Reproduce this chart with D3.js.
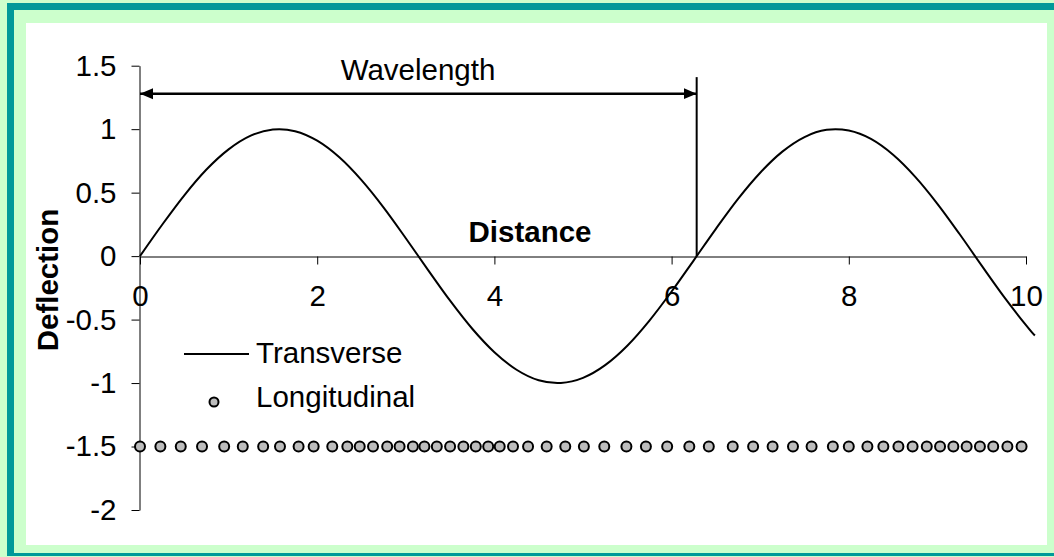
<!DOCTYPE html>
<html>
<head>
<meta charset="utf-8">
<script src="https://cdn.jsdelivr.net/npm/d3@7"></script>
<style>
  html, body { margin: 0; padding: 0; background: #ccffcc; }
  svg { display: block; font-family: 'Liberation Sans', Arial, sans-serif; }
</style>
</head>
<body>
<svg id="chart" width="1054" height="557"></svg>
<script>
// transverse wave
const distance = [0, 0.25, 0.5, 0.75, 1, 1.25, 1.5, 1.75, 2, 2.25, 2.5, 2.75, 3, 3.25, 3.5, 3.75,
  4, 4.25, 4.5, 4.75, 5, 5.25, 5.5, 5.75, 6, 6.25, 6.5, 6.75, 7, 7.25, 7.5, 7.75,
  8, 8.25, 8.5, 8.75, 9, 9.25, 9.5, 9.75, 10, 10.1]
const deflection = [0, 0.247, 0.479, 0.682, 0.841, 0.949, 0.997, 0.984, 0.909, 0.778, 0.598, 0.382,
  0.141, -0.108, -0.351, -0.572, -0.757, -0.895, -0.978, -0.999, -0.959, -0.859, -0.706, -0.508,
  -0.279, -0.033, 0.215, 0.451, 0.657, 0.823, 0.938, 0.995, 0.989, 0.923, 0.798, 0.624,
  0.412, 0.174, -0.075, -0.319, -0.544, -0.625]

// longitudinal particle positions along the -1.5 row
const longitudinalX = [0, 0.23, 0.46, 0.70, 0.95, 1.16, 1.39, 1.58, 1.79, 1.96, 2.17, 2.34, 2.48,
  2.63, 2.79, 2.93, 3.08, 3.21, 3.35, 3.50, 3.65, 3.79, 3.93, 4.06, 4.21, 4.38, 4.59, 4.80,
  5.01, 5.24, 5.49, 5.71, 5.95, 6.20, 6.42, 6.69, 6.92, 7.14, 7.37, 7.58, 7.82, 8.00, 8.21,
  8.39, 8.56, 8.72, 8.88, 9.03, 9.18, 9.33, 9.48, 9.63, 9.79, 9.95]
const longitudinalY = -1.5

const xTicks = [0, 2, 4, 6, 8, 10]
const yTicks = [-2, -1.5, -1, -0.5, 0, 0.5, 1, 1.5]

const wavelength = 6.283
const arrowLevel = 1.28
const markerTop = 1.41

const svg = d3.select('#chart')
const W = 1054, H = 557

// frame
svg.append('rect').attr('x', 0).attr('y', 0).attr('width', W).attr('height', H).attr('fill', '#ccffcc')
svg.append('rect').attr('x', 7).attr('y', 3).attr('width', W + 20).attr('height', 553).attr('fill', '#009999')
svg.append('rect').attr('x', 14).attr('y', 10).attr('width', W + 20).attr('height', 543).attr('fill', '#ccffcc')
svg.append('rect').attr('x', 26).attr('y', 23).attr('width', 1021).attr('height', 522).attr('fill', '#ffffff')

let x = d3.scaleLinear().domain([0, 10]).range([140, 1026])
let y = d3.scaleLinear().domain([-2, 1.5]).range([510, 65.7])

const FONT = 29.5

// y axis
let yAxis = svg.append('g')
  .attr('transform', 'translate(139.5,0)')
  .call(d3.axisLeft(y).tickValues(yTicks).tickSize(8).tickSizeOuter(0).tickPadding(15)
    .tickFormat(d => String(d)))
yAxis.attr('font-size', FONT).attr('font-family', null)
yAxis.selectAll('text').attr('fill', '#000')
yAxis.selectAll('line, path').attr('stroke', '#000')

// x axis sits on zero
let xAxis = svg.append('g')
  .attr('transform', `translate(0,${Math.round(y(0)) + 0.5})`)
  .call(d3.axisBottom(x).tickValues(xTicks).tickSize(8).tickSizeOuter(0).tickPadding(21)
    .tickFormat(d => String(d)))
xAxis.attr('font-size', FONT).attr('font-family', null)
xAxis.selectAll('text').attr('fill', '#000')
xAxis.selectAll('line, path').attr('stroke', '#000')

// transverse curve
let line = d3.line().curve(d3.curveCardinal)
  .x((d, i) => x(distance[i]))
  .y(d => y(d))
svg.append('path')
  .datum(deflection)
  .attr('d', line)
  .attr('fill', 'none')
  .attr('stroke', '#000')
  .attr('stroke-width', 2)

// longitudinal dots
svg.append('g').selectAll('circle')
  .data(longitudinalX)
  .enter()
  .append('circle')
  .attr('cx', d => x(d))
  .attr('cy', y(longitudinalY))
  .attr('r', 5)
  .attr('fill', '#bdbdbd')
  .attr('stroke', '#000')
  .attr('stroke-width', 2)

// wavelength marker
let defs = svg.append('defs')
defs.append('marker')
  .attr('id', 'head')
  .attr('markerUnits', 'userSpaceOnUse')
  .attr('markerWidth', 14).attr('markerHeight', 12)
  .attr('refX', 13).attr('refY', 6)
  .attr('orient', 'auto-start-reverse')
  .append('path')
  .attr('d', 'M0,0.5 L13,6 L0,11.5 Z')
  .attr('fill', '#000')

svg.append('line')
  .attr('x1', x(0)).attr('x2', x(wavelength))
  .attr('y1', y(arrowLevel)).attr('y2', y(arrowLevel))
  .attr('stroke', '#000').attr('stroke-width', 2.5)
  .attr('marker-start', 'url(#head)')
  .attr('marker-end', 'url(#head)')

svg.append('line')
  .attr('x1', x(wavelength)).attr('x2', x(wavelength))
  .attr('y1', y(markerTop)).attr('y2', y(0))
  .attr('stroke', '#000').attr('stroke-width', 2)

svg.append('text')
  .attr('x', 418).attr('y', 80)
  .attr('text-anchor', 'middle')
  .attr('font-size', FONT)
  .text('Wavelength')

svg.append('text')
  .attr('x', 530).attr('y', 242)
  .attr('text-anchor', 'middle')
  .attr('font-size', FONT)
  .attr('font-weight', 'bold')
  .text('Distance')

svg.append('text')
  .attr('transform', 'translate(58,280) rotate(-90)')
  .attr('text-anchor', 'middle')
  .attr('font-size', FONT)
  .attr('font-weight', 'bold')
  .text('Deflection')

// legend
let legend = svg.append('g')
legend.append('line')
  .attr('x1', 184).attr('x2', 249).attr('y1', 354).attr('y2', 354)
  .attr('stroke', '#000').attr('stroke-width', 2)
legend.append('text')
  .attr('x', 256).attr('y', 363)
  .attr('font-size', FONT)
  .text('Transverse')
legend.append('circle')
  .attr('cx', 214).attr('cy', 402).attr('r', 4.5)
  .attr('fill', '#bdbdbd').attr('stroke', '#000').attr('stroke-width', 2)
legend.append('text')
  .attr('x', 256).attr('y', 407)
  .attr('font-size', FONT)
  .text('Longitudinal')
</script>
</body>
</html>
